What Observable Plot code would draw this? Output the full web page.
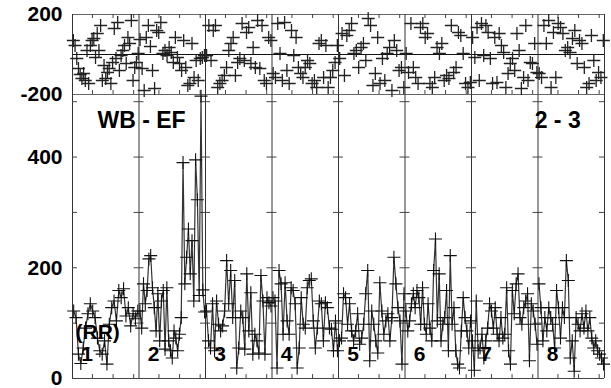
<!DOCTYPE html>
<html><head><meta charset="utf-8">
<script src="https://cdn.jsdelivr.net/npm/d3@7"></script>
<script src="https://cdn.jsdelivr.net/npm/@observablehq/plot@0.6"></script>
<style>
body{margin:0;background:#fff}
#chart{position:relative;width:611px;height:388px}
#chart svg{position:absolute;left:0;top:0}
</style>
</head><body><div id="chart"></div><script>
// ---- Top panel (scatter, -200..200), one array per column ----
const topCol1 = [70,45,-20,-70,-100,-120,-95,-130,20,-145,45,70,80,-15,105,20,145,-130,-55,-120,-90,-70,-145,-40,130,-20,160,-80,-5,20,45,-45,85,55,170,-130,-65,-40,5];
const topCol2 = [75,-70,-180,85,145,40,-80,-170,120,110,160,5,20,-5,35,10,-40,85,-15,-45,-80,70,-65,-155,-145,55,-115,-30,-130,-20,-15,-5];
const topCol3 = [-5,145,-30,120,145,-165,-145,-130,-105,-65,20,55,85,-105,-40,-20,155,-30,110,135,-45,35,-65,170,-70,145,-130,-145,85,70];
const topCol4 = [-95,-115,155,5,-130,160,-80,-145,120,-5,85,-65,-95,-115,-65,-30,-45,-145,-130,-165,55,70,-115,45,-165,-115,-80,-40,45];
const topCol5 = [-20,105,-105,95,120,155,5,20,-65,35,55,-30,180,145,-155,-95,85,-145,-20,-130,5,35,-180,70,20,-80,-65,-165];
const topCol6 = [5,-90,155,-65,-115,-145,135,155,85,105,-145,-165,-115,35,5,55,-130,-105,-120,145,-90,-65,110,95,5,-145,-165,-140];
const topCol7 = [85,-15,135,-130,155,-5,145,110,-20,-145,85,-140,105,45,10,-165,-95,-45,-20,-80,105,20,-170,-115,145,-130,-40,-45,55,-90];
const topCol8 = [-95,-115,145,55,170,-165,110,-115,155,135,105,20,35,10,80,120,-45,70,55,-65,-165,-145,95,-30,-130,-90,-115,70];

// ---- Lower panel (RR series, 0..513), one array per column ----
const lowCol1 = [122,110,44,27,55,91,117,135,122,110,73,50,44,68,26,98,128,140,104,159,146,162,113,128,95,117,108,122];
const lowCol2 = [122,91,171,135,159,216,222,164,128,86,153,68,140,159,53,164,68,50,37,86,73,50,80,110,390,171,219,270,189,249,140,395,323,150,510,160,120];
const lowCol3 = [122,68,55,135,50,140,98,86,95,122,213,135,195,110,177,19,55,122,110,53,189,86,155,44,80,68,46,186,140,44,146,137,131];
const lowCol4 = [146,140,19,195,171,80,173,104,80,164,159,135,19,55,146,98,91,164,177,180,104,55,91,140,135,68,137,128,91,89,50,104,50];
const lowCol5 = [68,73,153,146,98,135,86,68,86,117,62,73,98,153,195,32,122,98,68,46,173,122,80,104,117,68,110,219,171,128,104,26,153];
const lowCol6 = [122,86,104,135,153,128,159,146,98,164,98,80,135,91,68,195,252,104,189,68,98,110,159,50,222,98,128,50,26,19,86,146,110,86,55,104];
const lowCol7 = [68,15,140,50,55,80,37,68,91,135,122,91,128,80,68,110,73,80,164,50,26,159,117,171,189,110,98,128,140,153,32,135,122,98,62];
const lowCol8 = [171,128,68,110,86,128,110,98,55,159,128,73,128,110,213,177,37,68,13,110,98,86,117,91,122,86,110,73,55,68,50,44,37,26];

const columnLabels = ["1","2","3","4","5","6","7","8"];
const topTickLabels = [200, -200];
const lowTickLabels = [0, 200, 400];
const lowMinorTicks = [100, 200, 300, 400, 500];
const titleLeft = "WB - EF";
const titleRight = "2 - 3";
const seriesLabel = "(RR)";

// ---- build tables ----
const topCols = [topCol1,topCol2,topCol3,topCol4,topCol5,topCol6,topCol7,topCol8];
const lowCols = [lowCol1,lowCol2,lowCol3,lowCol4,lowCol5,lowCol6,lowCol7,lowCol8];
const nCols = columnLabels.length;
const toRows = cols => cols.flatMap((vals, c) => vals.map((v, i) => ({col: c, x: c + (i + 0.5) / vals.length, v})));
const topRows = toRows(topCols);
const lowRows = toRows(lowCols);
const boundaries = d3.range(nCols + 1);
const minorX = boundaries.slice(0, -1).flatMap(c => [c + 0.3, c + 0.61, c + 0.92]);
const sideTicks = boundaries.flatMap(b => lowMinorTicks.map(y => ({y, x1: Math.max(0, b - 0.075), x2: Math.min(nCols, b + 0.075)})));
const colLabelRows = columnLabels.map((t, c) => ({t, x: c + 0.22}));

const plus = {draw(ctx, size) { const r = Math.sqrt(size / Math.PI); ctx.moveTo(-r, 0); ctx.lineTo(r, 0); ctx.moveTo(0, -r); ctx.lineTo(0, r); }};
const font = "'Liberation Sans', Arial, sans-serif";
const common = {
  width: 611, height: 388, marginLeft: 72, marginRight: 7,
  style: {background: "transparent", fontFamily: font, fontSize: "21px", fontWeight: "bold", color: "#000"},
  x: {domain: [0, nCols], axis: null}
};
const lineColor = "#333";

const topPlot = Plot.plot({
  ...common, marginTop: 14, marginBottom: 294,
  y: {domain: [-200, 200], ticks: topTickLabels, tickSize: 0, tickPadding: 10, label: null, tickFormat: d => String(d)},
  marks: [
    Plot.ruleY([200, -200], {stroke: "#666"}),
    Plot.ruleY([0], {stroke: "#111"}),
    Plot.ruleX(boundaries, {y1: -200, y2: 200, stroke: lineColor}),
    Plot.ruleX(minorX, {y1: 200, y2: 180, stroke: "#444"}),
    Plot.ruleX(minorX, {y1: -200, y2: -180, stroke: "#444"}),
    Plot.dot(topRows, {x: "x", y: "v", r: 6.5, symbol: plus, fill: "none", stroke: "#222", strokeWidth: 1.3})
  ]
});

const lowPlot = Plot.plot({
  ...common, marginTop: 94, marginBottom: 10,
  y: {domain: [0, 513], ticks: lowTickLabels, tickSize: 0, tickPadding: 10, label: null, tickFormat: d => String(d)},
  marks: [
    Plot.ruleX(boundaries, {y1: 0, y2: 513, stroke: lineColor}),
    Plot.ruleY([0], {stroke: "#444"}),
    Plot.ruleY(sideTicks, {y: "y", x1: "x1", x2: "x2", stroke: "#444"}),
    Plot.ruleX(minorX, {y1: 0, y2: 7, stroke: "#444"}),
    Plot.line(lowRows, {x: "x", y: "v", z: "col", stroke: "#333", strokeWidth: 1.2}),
    Plot.dot(lowRows, {x: "x", y: "v", r: 6.5, symbol: plus, fill: "none", stroke: "#111", strokeWidth: 1.1}),
    Plot.text([titleLeft], {x: 0.375, y: 465, text: d => d, textAnchor: "start", fontSize: 23, fontWeight: "bold", fontFamily: font, fill: "#000"}),
    Plot.text([titleRight], {x: 6.95, y: 466, text: d => d, textAnchor: "start", fontSize: 23, fontWeight: "bold", fontFamily: font, fill: "#000"}),
    Plot.text([seriesLabel], {x: 0.045, y: 84, text: d => d, textAnchor: "start", fontSize: 21, fontWeight: "bold", fontFamily: font, fill: "#000"}),
    Plot.text(colLabelRows, {x: "x", y: 44, text: "t", fontSize: 21, fontWeight: "bold", fontFamily: font, fill: "#000"})
  ]
});

const chart = document.getElementById("chart");
chart.appendChild(topPlot);
chart.appendChild(lowPlot);
</script></body></html>
